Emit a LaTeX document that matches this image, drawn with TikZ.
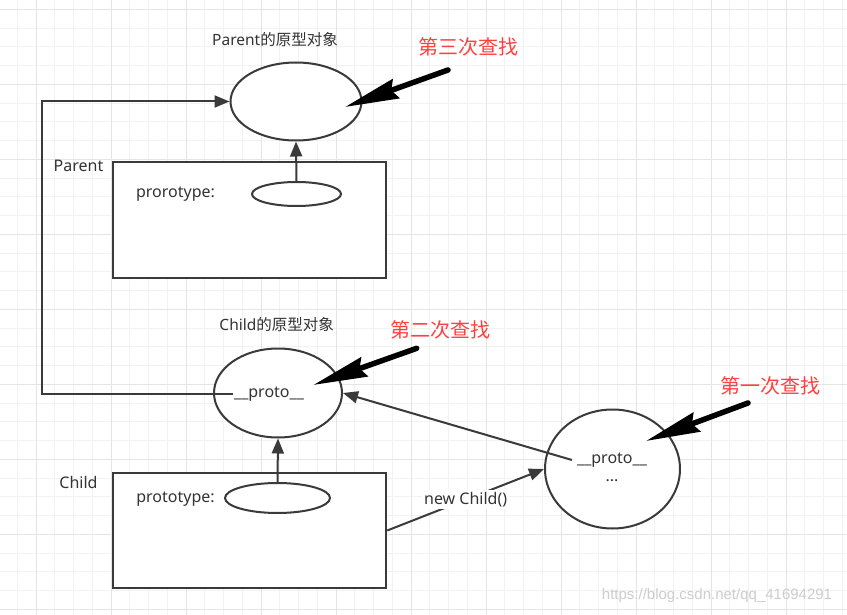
\documentclass[tikz,border=0pt]{standalone}
\usepackage{fontspec}
\setmainfont{Noto Sans}
\newfontfamily\cjk{Noto Sans CJK SC}
\newfontfamily\wmfont{Liberation Sans}
\usetikzlibrary{shapes.geometric,arrows.meta}
\definecolor{ink}{RGB}{51,51,51}
\definecolor{edge}{RGB}{58,58,58}
\definecolor{redtxt}{RGB}{255,64,64}
\definecolor{gridminor}{RGB}{242,242,242}
\definecolor{gridmajor}{RGB}{228,228,228}
\definecolor{wm}{RGB}{205,205,205}
\begin{document}
\begin{tikzpicture}[x=1pt,y=-1pt,
  lbl/.style={text=ink, inner sep=1pt, font=\fontsize{16}{19}\selectfont},
  tlbl/.style={text=ink, inner sep=1pt, font=\fontsize{15.5}{19}\selectfont},
  redlbl/.style={text=redtxt, inner sep=1pt, font=\cjk\fontsize{20}{24}\selectfont},
  oval/.style={ellipse, draw=edge, line width=2pt, inner sep=0pt, fill=white},
  box/.style={rectangle, draw=edge, line width=2.5pt, inner sep=0pt, fill=white},
  conn/.style={draw=edge, line width=2pt, -{Triangle[length=15pt,width=12pt]}},
  bigarrow/.style={draw=black, line width=5.5pt, line cap=round, -{Stealth[length=54pt,width=20pt,inset=5pt]}}
]
\useasboundingbox (0,0) rectangle (847,615);
\fill[white] (0,0) rectangle (847,615);
% grid
\foreach \i in {0,...,44} { \draw[gridminor, line width=1pt] ({17.3+18.75*\i},0) -- ({17.3+18.75*\i},615); }
\foreach \i in {0,...,32} { \draw[gridminor, line width=1pt] (0,{9.3+18.75*\i}) -- (847,{9.3+18.75*\i}); }
\foreach \i in {0,...,10} { \draw[gridmajor, line width=1pt] ({36.05+75*\i},0) -- ({36.05+75*\i},615); }
\foreach \i in {0,...,8} { \draw[gridmajor, line width=1pt] (0,{9.3+75*\i}) -- (847,{9.3+75*\i}); }

% Parent part
\node[tlbl] (ptitle) at (275,40) {Parent{\cjk 的原型对象}};
\node[oval, minimum width=131pt, minimum height=78pt] (pobj) at (296,101.5) {};
\node[box, minimum width=273pt, minimum height=116pt] (prect) at (249.5,220) {};
\node[lbl] (plabel) at (78.5,166) {Parent};
\node[lbl] (pproto) at (175.5,194) {prorotype:};
\node[oval, minimum width=89pt, minimum height=24pt] (pse) at (296.5,194) {};

% Child part
\node[tlbl] (ctitle) at (276.7,325) {Child{\cjk 的原型对象}};
\node[oval, minimum width=128pt, minimum height=89pt] (cobj) at (278,393) {};
\node[lbl] (cproto) at (269,394) {\_\_proto\_\_};
\node[box, minimum width=273pt, minimum height=115pt] (crect) at (249.5,530.5) {};
\node[lbl] (clabel) at (78.5,482) {Child};
\node[lbl] (cprot) at (175.5,499) {prototype:};
\node[oval, minimum width=105pt, minimum height=30pt] (cse) at (277.5,498) {};

% instance
\node[oval, minimum width=135pt, minimum height=119pt] (circ) at (612.5,469) {};
\node[lbl, inner xsep=5pt] (rproto) at (612,460) {\_\_proto\_\_};
\node[lbl] (rdots) at (612,481) {...};

% red labels
\node[redlbl] (r3) at (468,47) {第三次查找};
\node[redlbl] (r2) at (440,330) {第二次查找};
\node[redlbl] (r1) at (770,386) {第一次查找};

% connectors
\coordinate (lc) at (42,300);
\draw[conn] (pse.north) -- (pobj.south);
\draw[conn] (cse.north) -- (cobj.south);
\draw[conn] (cproto.west) -- (cproto.west -| lc) -- (lc |- pobj.west) -- (pobj.west);
\draw[conn] (rproto.west) -- (cobj.east);
\draw[conn] (crect.east) -- node[lbl, fill=white, inner sep=2pt] (newc) {new Child()} (circ.west);

% big black arrows
\coordinate (a3s) at (448,70);  \coordinate (a3e) at (345,107);
\coordinate (a2s) at (416.7,348.3); \coordinate (a2e) at (313.3,385);
\coordinate (a1s) at (748,403); \coordinate (a1e) at (646,441);
\draw[bigarrow] (a3s) -- (a3e);
\draw[bigarrow] (a2s) -- (a2e);
\draw[bigarrow] (a1s) -- (a1e);

% watermark
\node[text=wm, inner sep=0pt, font=\wmfont\fontsize{15}{18}\selectfont] (wmark) at (717,596) {https://blog.csdn.net/qq\_41694291};
\end{tikzpicture}
\end{document}
